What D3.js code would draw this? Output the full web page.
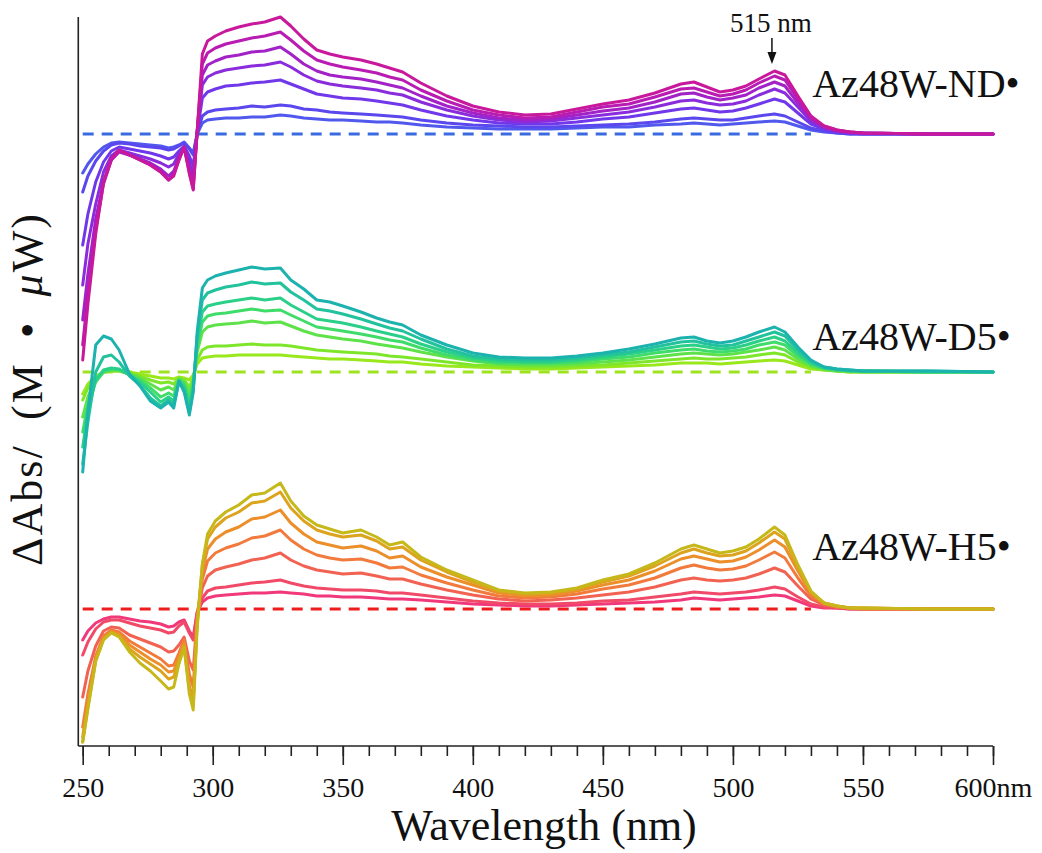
<!DOCTYPE html>
<html><head><meta charset="utf-8">
<script src="https://cdn.jsdelivr.net/npm/d3@7"></script>
<style>
body{margin:0;background:#fff}
svg{display:block}
text, tspan{font-family:"Liberation Serif","Times New Roman",serif;fill:#111}
</style>
</head><body>
<svg id="chart" width="1042" height="853"></svg>
<script>
// ---- data (ΔAbs, arbitrary units ×10^-3, relative to each group's baseline) ----
const wavelengths = [250,252,255,258,261,264,268,272,276,280,283,285,287,289,291,292.5,294,296,298,301,
  305,310,315,320,326,330,335,340,345,350,
  357,363,368,373,380,390,400,410,420,430,
  440,450,460,470,480,485,490,495,500,505,
  510,516,520,525,530,535,540,545,550,575,600];

const ndSeries = [
  [-39,-30,-20,-13,-9,-8,-9,-10,-11,-12,-14,-13,-11,-8,-14,-19,0,11,14,15, 16,16,17,17,19,18,16,15,14,14, 13,12,12,11,9,7,6,5,5,5, 6,7,7,9,10,11,10,9,10,11, 12,13,12,8,4,2,1,0,0,0, 0],
  [-58,-42,-27,-17,-11,-9,-10,-12,-13,-14,-16,-15,-12,-9,-15,-21,0,18,22,24, 25,26,28,27,29,28,25,24,22,21, 20,19,18,17,14,11,9,8,7,7, 8,9,10,12,15,16,15,14,14,16, 18,20,18,12,6,3,1,0,0,0, 0],
  [-111,-80,-48,-28,-17,-13,-15,-17,-19,-22,-25,-23,-17,-12,-22,-32,1,36,42,45, 48,49,51,52,54,50,45,40,38,36, 35,33,31,29,24,18,14,11,10,10, 12,15,17,21,25,26,24,22,23,26, 30,35,32,21,10,5,2,1,0,0, 0],
  [-151,-110,-70,-38,-22,-16,-19,-22,-25,-29,-33,-30,-20,-14,-28,-42,2,49,57,61, 64,66,68,69,72,67,59,53,50,48, 46,44,41,39,32,24,18,14,12,13, 16,19,22,27,33,34,31,29,30,33, 39,45,41,27,13,6,3,1,1,0, 0],
  [-186,-140,-85,-48,-26,-18,-21,-25,-29,-35,-42,-37,-24,-14,-34,-50,2,59,69,73, 77,79,82,83,87,80,70,63,59,57, 55,52,49,46,38,28,21,16,14,15, 19,23,26,32,40,41,37,34,36,39, 46,52,48,31,15,7,3,2,1,0, 0],
  [-211,-160,-96,-50,-26,-17,-21,-26,-31,-38,-46,-40,-26,-13,-38,-55,2,70,81,86, 90,93,96,98,102,94,83,74,70,67, 64,61,57,54,44,33,24,19,16,17, 22,27,30,37,45,46,42,38,40,44, 51,58,54,35,17,8,4,2,1,0, 0],
  [-226,-170,-100,-48,-25,-16,-21,-26,-31,-38,-46,-42,-26,-13,-40,-56,2,80,93,98, 103,107,110,112,117,108,95,84,80,77, 74,70,66,62,51,38,28,22,19,20, 25,30,34,41,50,52,47,42,44,48, 55,63,59,38,18,8,4,2,1,0, 0]
];

const d5Series = [
  [-22,-12,-4,0,1,1,0,-2,-4,-6,-6,-7,-5,-6,-8,-3,8,14,15,16, 16,17,17,17,17,16,15,14,13,13, 12,11,10,10,8,6,5,4,3,3, 4,5,6,7,9,9,9,8,9,10, 11,12,11,7,3,2,1,0,0,0, 0],
  [-28,-16,-6,0,1,1,-1,-4,-8,-11,-10,-12,-6,-8,-15,-6,12,22,25,26, 26,27,28,27,27,26,24,22,21,20, 19,18,16,15,13,10,7,6,5,5, 6,7,9,11,13,14,13,13,14,15, 17,19,17,10,5,2,1,0,0,0, 0],
  [-45,-25,-8,0,2,2,-2,-6,-12,-18,-15,-18,-7,-10,-21,-9,20,40,45,47, 48,49,51,49,50,46,41,37,35,33, 31,28,26,24,20,15,11,8,7,7, 8,10,12,15,18,19,18,17,18,20, 22,25,22,13,6,3,1,1,0,0, 0],
  [-60,-32,-10,0,3,2,-3,-8,-16,-25,-21,-24,-8,-12,-28,-12,25,50,56,58, 59,61,63,61,62,57,51,45,43,41, 38,35,32,30,24,17,12,9,9,9, 10,13,15,19,22,23,21,20,21,23, 27,30,27,16,8,4,2,1,1,0, 0],
  [-75,-40,-8,2,4,3,-3,-10,-20,-30,-25,-29,-9,-15,-35,-15,30,60,66,68, 70,72,74,72,74,67,60,53,51,49, 45,41,38,35,28,20,14,11,10,10, 12,15,18,22,26,27,25,23,24,27, 31,35,31,19,9,4,2,1,1,0, 0],
  [-92,-50,0,15,17,10,-4,-13,-26,-34,-28,-33,-10,-18,-40,-18,35,72,79,82, 85,87,90,88,89,80,72,63,61,58, 53,48,44,41,33,23,16,13,12,12, 14,17,20,25,30,31,28,26,27,31, 35,40,36,22,11,5,3,2,1,1, 0],
  [-100,-40,27,36,33,22,-2,-14,-29,-36,-30,-36,-9,-20,-43,-20,40,84,92,96, 99,102,105,103,104,92,83,72,70,66, 60,54,50,47,37,27,19,15,14,14, 16,19,23,28,34,35,31,29,31,35, 40,45,40,25,12,5,3,2,1,1, 0]
];

const h5Series = [
  [-31,-22,-14,-10,-8,-8,-10,-12,-13,-15,-18,-17,-13,-11,-22,-28,-3,7,11,13, 14,15,16,16,17,16,15,13,13,12, 12,11,10,10,9,7,5,4,3,3, 4,5,6,7,9,11,10,9,10,11, 12,14,13,8,3,1,1,0,0,0, 0],
  [-46,-33,-20,-13,-11,-11,-14,-17,-19,-21,-24,-23,-17,-13,-24,-31,-4,11,18,21, 22,24,26,27,29,26,23,21,20,19, 19,18,16,16,14,11,8,6,5,5, 6,8,9,12,15,17,16,15,16,17, 19,22,20,12,5,2,1,0,0,0, 0],
  [-88,-62,-37,-22,-18,-19,-26,-30,-34,-38,-43,-42,-36,-28,-52,-61,-8,21,33,39, 42,45,49,51,56,49,43,39,37,35, 36,33,30,30,25,19,14,10,8,9, 11,14,17,22,29,31,29,28,29,31, 35,41,37,23,10,4,2,1,0,0, 0],
  [-118,-85,-47,-27,-21,-23,-32,-38,-44,-50,-57,-56,-44,-31,-65,-78,-10,30,48,56, 61,65,71,73,79,69,60,54,51,49, 50,46,41,42,34,26,19,13,11,12, 15,20,24,31,41,44,41,39,40,43, 49,57,51,31,13,5,2,1,0,0, 0],
  [-128,-92,-50,-29,-23,-25,-36,-43,-50,-56,-63,-62,-48,-34,-76,-92,-12,38,60,70, 77,82,90,92,99,86,75,67,64,61, 63,58,51,53,42,32,24,16,13,14, 18,24,29,38,50,53,50,47,48,52, 59,69,62,38,16,6,3,1,1,0, 0],
  [-133,-98,-52,-30,-23,-27,-40,-48,-55,-62,-70,-68,-52,-38,-80,-95,-15,44,70,82, 91,97,106,108,117,101,88,79,75,72, 74,68,60,62,49,37,27,18,15,16, 20,27,33,43,56,60,56,53,54,58, 66,77,70,42,17,6,3,1,1,0, 0],
  [-133,-100,-52,-31,-24,-28,-43,-54,-62,-72,-80,-78,-55,-38,-85,-101,-20,45,75,88, 97,104,114,116,126,108,93,84,80,76, 79,72,64,67,52,39,29,19,16,17, 21,29,35,46,60,64,60,56,58,62, 70,82,74,44,18,6,3,1,1,0, 0]
];

const groupNames = ["Az48W-ND\u2022", "Az48W-D5\u2022", "Az48W-H5\u2022"];
const groupOffsets = [475, 237, 0];
const ndColors = ["#5058ee","#5a48ee","#7038ea","#8a2cdc","#a222c8","#b81cb2","#c8189c"];
const d5Colors = ["#98e81c","#7ee62a","#5ee24a","#40dc6a","#2ad088","#22c29c","#1cb2ae"];
const h5Colors = ["#f0387a","#f04a68","#f26252","#f27a3c","#ec8e2a","#dca41e","#c6b81a"];
const baselineColors = ["#3a6ae0","#9ee31f","#ee1c1c"];
const majorTicks = [250,300,350,400,450,500,550,600];
const minorTicks = d3.range(250, 601, 10);
const annotation = {text: "515 nm", wavelength: 515};

// ---- chart ----
const SERIF = '"Liberation Serif","Times New Roman",serif';
const svg = d3.select("#chart");
const x = d3.scaleLinear().domain([250, 600]).range([82.7, 993]);
const y = d3.scaleLinear().domain([-137, 592]).range([746, 17]);

const groups = [
  {series: ndSeries, colors: ndColors},
  {series: d5Series, colors: d5Colors},
  {series: h5Series, colors: h5Colors}
];

// baselines (dashed)
groups.forEach((g, gi) => {
  svg.append("line")
    .attr("x1", x(250)).attr("x2", x(530))
    .attr("y1", y(groupOffsets[gi])).attr("y2", y(groupOffsets[gi]))
    .attr("stroke", baselineColors[gi]).attr("stroke-width", 3)
    .attr("stroke-dasharray", "11,8");
});

// spectra
groups.forEach((g, gi) => {
  const line = d3.line()
    .x((d, i) => x(wavelengths[i]))
    .y(d => y(d + groupOffsets[gi]))
    .curve(d3.curveLinear);
  g.series.forEach((s, si) => {
    svg.append("path").datum(s)
      .attr("d", line)
      .attr("fill", "none")
      .attr("stroke", g.colors[si])
      .attr("stroke-width", 3)
      .attr("stroke-linejoin", "round")
      .attr("stroke-linecap", "round");
  });
});

// axes
const axisY = 746;
const minorAxis = d3.axisBottom(x).tickValues(minorTicks).tickSize(10).tickFormat("");
const majorAxis = d3.axisBottom(x).tickValues(majorTicks).tickSize(19).tickPadding(12)
  .tickFormat(d => d === 600 ? "600nm" : String(d));
const gMinor = svg.append("g").attr("transform", `translate(0,${axisY})`).call(minorAxis);
const gMajor = svg.append("g").attr("transform", `translate(0,${axisY})`).call(majorAxis)
  .attr("font-family", SERIF);
[gMinor, gMajor].forEach(g => {
  g.select(".domain").remove();
  g.selectAll(".tick line").attr("stroke", "#222").attr("stroke-width", 1.6);
});
gMajor.selectAll(".tick text").attr("font-size", 28)
  .attr("font-family", SERIF).attr("fill", "#111");

svg.append("line").attr("x1", x(248.3)).attr("x2", x(600)).attr("y1", axisY).attr("y2", axisY)
  .attr("stroke", "#222").attr("stroke-width", 1.6);
svg.append("line").attr("x1", x(248.3)).attr("x2", x(248.3)).attr("y1", 17).attr("y2", axisY)
  .attr("stroke", "#222").attr("stroke-width", 1.6);

// axis titles
svg.append("text").attr("x", 544).attr("y", 840).attr("text-anchor", "middle")
  .attr("font-family", SERIF).attr("font-size", 44).text("Wavelength (nm)");

const yt = svg.append("text").attr("transform", "translate(42,390) rotate(-90)")
  .attr("text-anchor", "middle").attr("font-family", SERIF).attr("font-size", 44)
  .attr("textLength", 352).attr("lengthAdjust", "spacing");
yt.append("tspan").attr("font-family", SERIF).text("\u0394Abs/\u2002(M\u2002\u2022\u2002");
yt.append("tspan").attr("font-family", SERIF).attr("font-style", "italic").text("\u03bc");
yt.append("tspan").attr("font-family", SERIF).text("W)");

// group labels
const labelDy = [37, 22, 49];
groupNames.forEach((n, gi) => {
  svg.append("text").attr("x", x(530.5)).attr("y", y(groupOffsets[gi] + labelDy[gi]))
    .attr("font-family", SERIF).attr("font-size", 40).text(n);
});

// 515 nm annotation
const ax = x(annotation.wavelength);
svg.append("text").attr("x", ax - 1).attr("y", 32).attr("text-anchor", "middle")
  .attr("font-family", SERIF).attr("font-size", 27).text(annotation.text);
svg.append("line").attr("x1", ax).attr("x2", ax).attr("y1", 38).attr("y2", 54)
  .attr("stroke", "#111").attr("stroke-width", 1.5);
svg.append("path").attr("d", `M${ax-4.5},52 L${ax+4.5},52 L${ax},64 Z`).attr("fill", "#111");
</script>
</body></html>
